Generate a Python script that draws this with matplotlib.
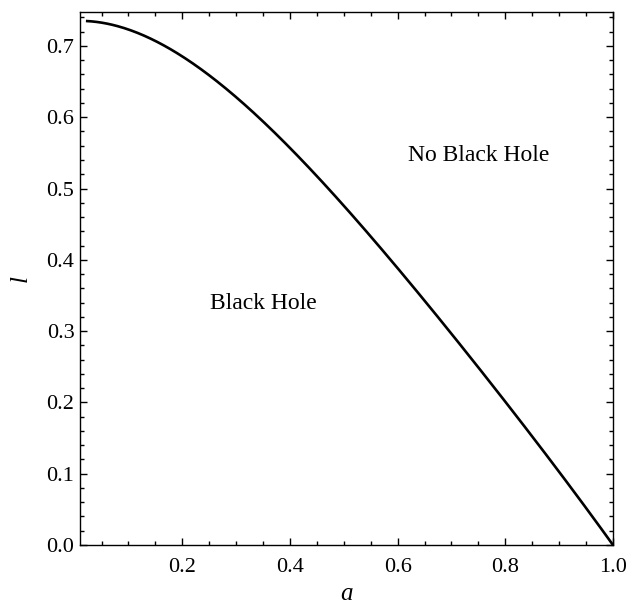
import matplotlib
matplotlib.use("Agg")
import matplotlib.pyplot as plt
from matplotlib.ticker import MultipleLocator
import numpy as np

a_vals = [0.021, 0.072, 0.134, 0.196, 0.258, 0.320, 0.382, 0.444, 0.506, 0.568,
          0.630, 0.679, 0.741, 0.803, 0.865, 0.927, 1.0]
l_vals = [0.735, 0.727, 0.711, 0.686, 0.655, 0.619, 0.574, 0.521, 0.466, 0.414,
          0.360, 0.317, 0.263, 0.199, 0.136, 0.072, 0.0]
x_ticks = [0.2, 0.4, 0.6, 0.8, 1.0]
y_ticks = [0.0, 0.1, 0.2, 0.3, 0.4, 0.5, 0.6, 0.7]

plt.rcParams['font.family'] = ['Liberation Serif', 'DejaVu Serif']

fig = plt.figure(figsize=(6.29, 6.09), dpi=100)
ax = fig.add_axes([80/629, 1 - 545/609, (613-80)/629, (545-12)/609])

# smooth curve through the read points (least-squares polynomial, weighted ends)
w = np.ones(len(a_vals)); w[0] = 10; w[-1] = 10
coef = np.polyfit(a_vals, l_vals, 4, w=w)
a_fine = np.linspace(a_vals[0], a_vals[-1], 400)
l_fine = np.polyval(coef, a_fine)
l_fine[-1] = l_vals[-1]
ax.plot(a_fine, l_fine, color='black', lw=1.9, solid_capstyle='butt')

ax.set_xlim(0.01, 1.0)
ax.set_ylim(0.0, 0.7476)
ax.set_xticks(x_ticks)
ax.set_xticklabels([f"{v:.1f}" for v in x_ticks])
ax.set_yticks(y_ticks)
ax.set_yticklabels([f"{v:.1f}" for v in y_ticks])
ax.xaxis.set_minor_locator(MultipleLocator(0.05))
ax.yaxis.set_minor_locator(MultipleLocator(0.02))
ax.tick_params(which='both', direction='in', top=True, right=True, width=1.0,
               labelsize=16, colors='black')
ax.tick_params(which='major', length=5)
ax.tick_params(which='minor', length=3)
ax.tick_params(axis='x', pad=9)
ax.tick_params(axis='y', pad=4)
for s in ax.spines.values():
    s.set_linewidth(1.0)

ax.set_xlabel('a', fontsize=18, style='italic', labelpad=5)
ax.set_ylabel('l', fontsize=18, style='italic', labelpad=11)

ax.text(0.751, 0.547, 'No Black Hole', fontsize=17, ha='center', va='center')
ax.text(0.350, 0.339, 'Black Hole', fontsize=17, ha='center', va='center')

fig.savefig('out.png', dpi=100)
